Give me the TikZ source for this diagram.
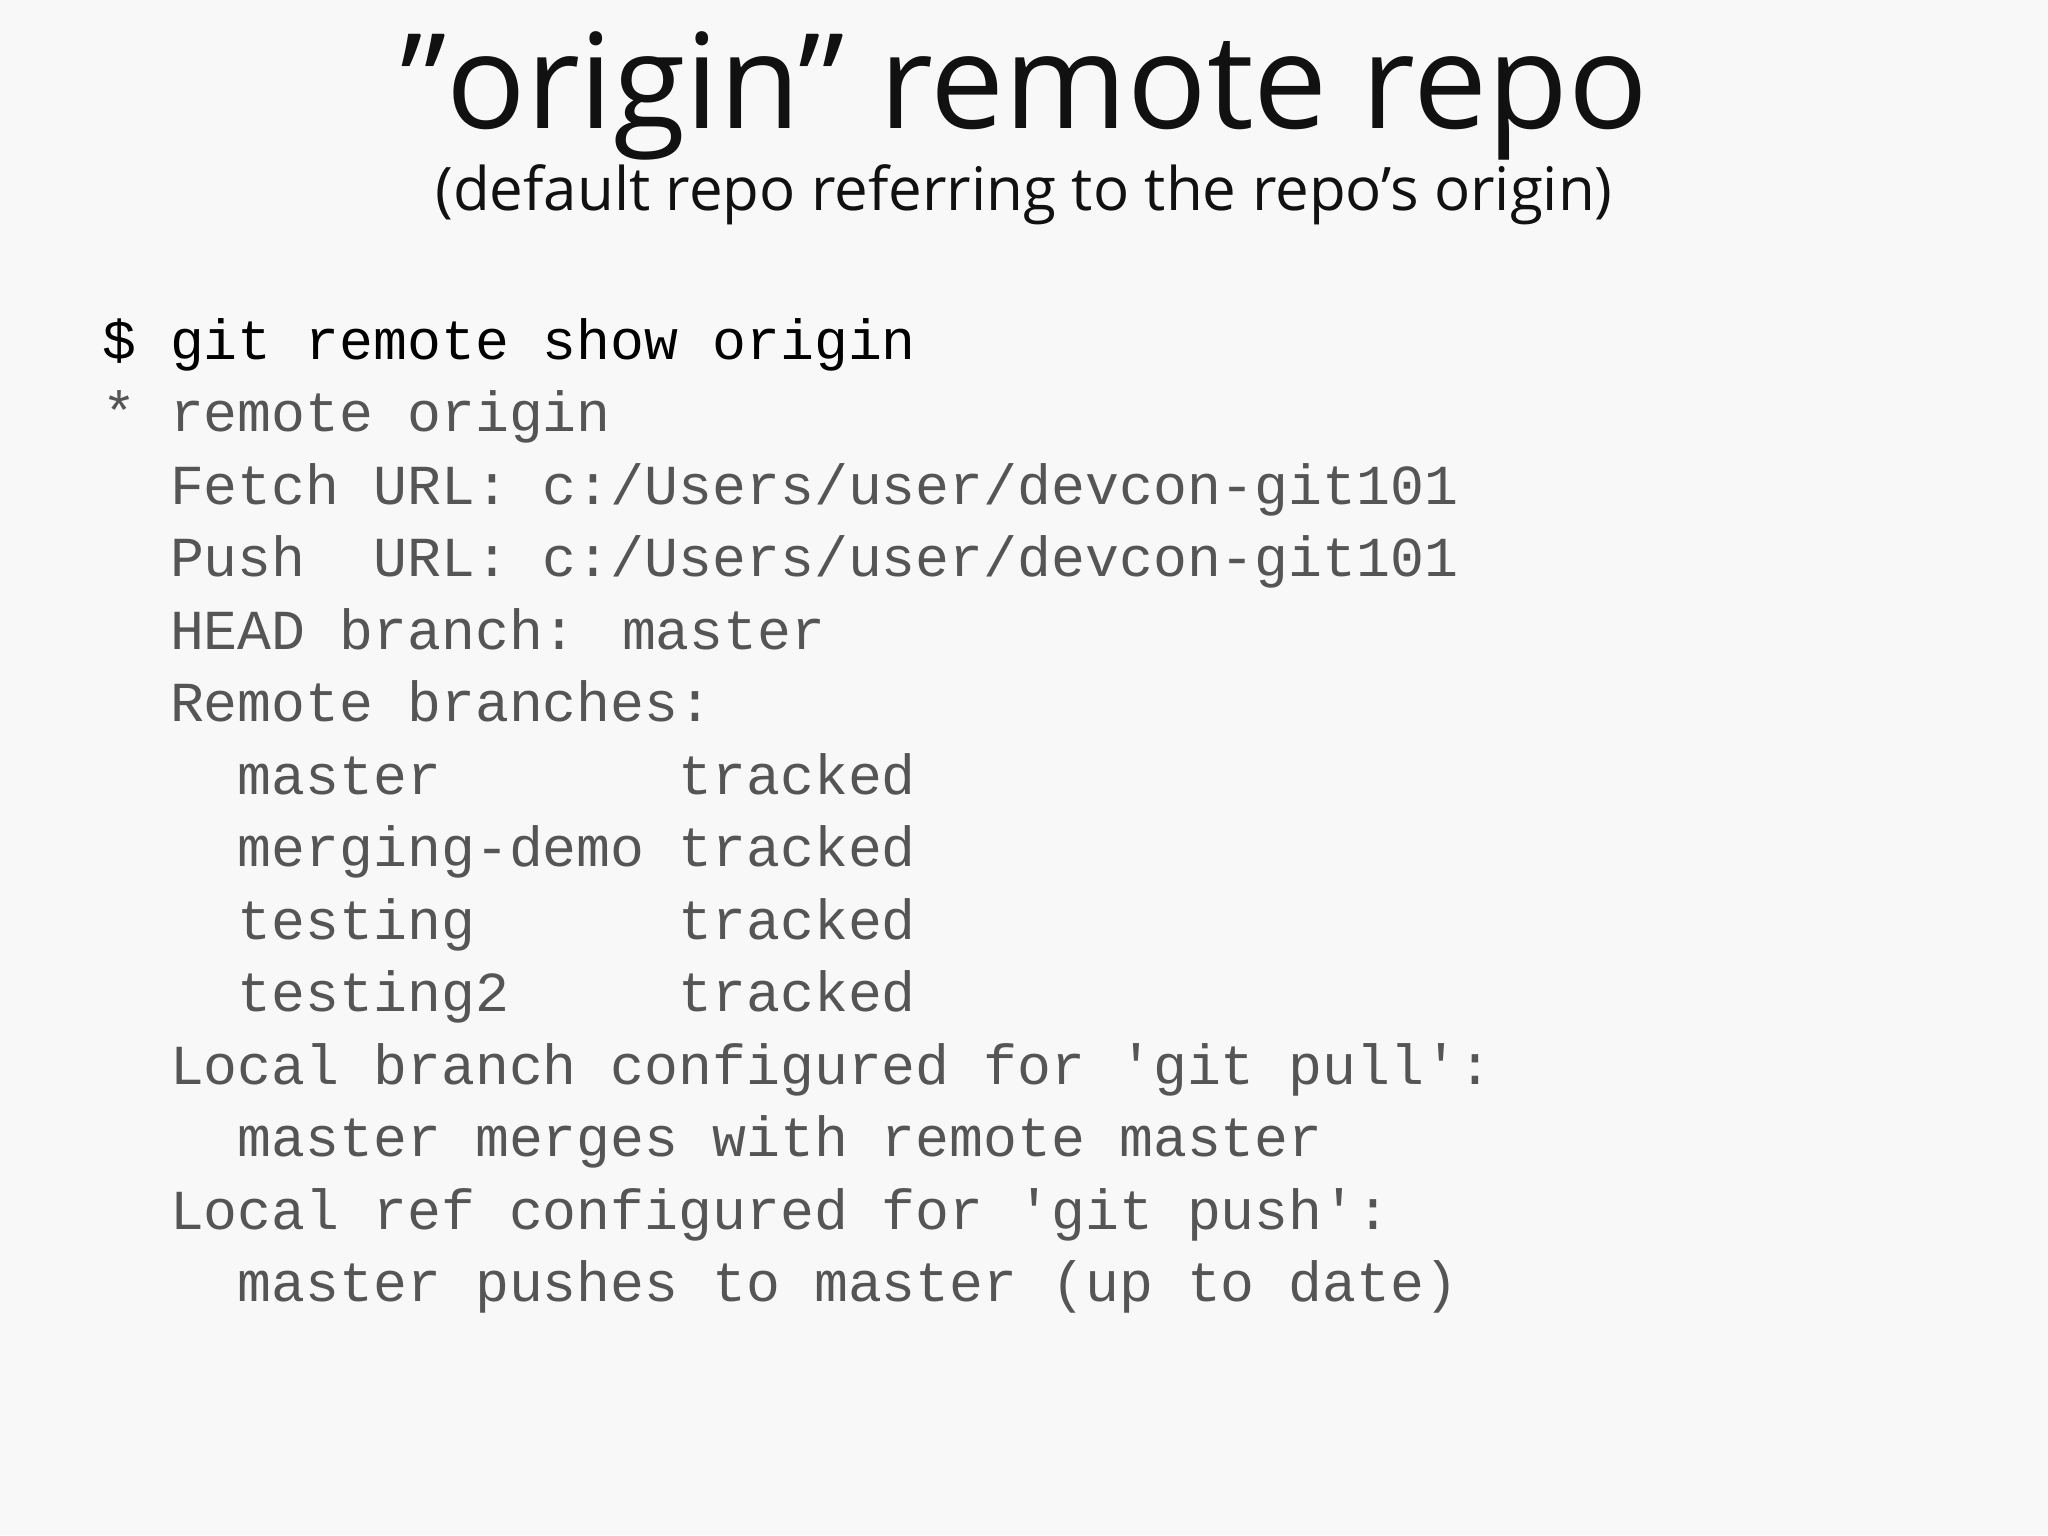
\documentclass[tikz,border=0pt]{standalone}
\usepackage{fontspec}
\setmainfont{Open Sans}
\newfontfamily\codefont{Liberation Mono}
\definecolor{bg}{HTML}{F8F8F8}
\definecolor{codegray}{HTML}{555555}
\definecolor{titleblack}{HTML}{111111}
\begin{document}
\begin{tikzpicture}[x=1pt,y=-1pt,
  code/.style={anchor=base west,inner sep=0pt,font=\codefont\fontsize{56.5}{60}\selectfont,text=codegray},
  cmd/.style={code,text=black}]
\fill[bg] (0,0) rectangle (2048,1535);
\useasboundingbox (0,0) rectangle (2048,1535);
\node[anchor=base,inner sep=0pt,font=\fontsize{132}{140}\selectfont,text=titleblack] (title) at (1024,128) {"origin" remote repo};
\node[anchor=base,inner sep=0pt,font=\fontsize{60}{66}\selectfont,text=titleblack] (sub) at (1024,210) {(default repo referring to the repo's origin)};
\node[cmd] (l0) at (102,359) {\$ git remote show origin};
\node[code] (l1) at (102,431.5) {* remote origin};
\node[code] (l2) at (102,504) {\ \ Fetch URL: c:/Users/user/devcon-git101};
\node[code] (l3) at (102,576.5) {\ \ Push\ \ URL: c:/Users/user/devcon-git101};
\node[code] (l4) at (102,649) {\ \ HEAD branch: master};
\node[code] (l5) at (102,721.5) {\ \ Remote branches:};
\node[code] (l6) at (102,794) {\ \ \ \ master\ \ \ \ \ \ \ tracked};
\node[code] (l7) at (102,866.5) {\ \ \ \ merging-demo tracked};
\node[code] (l8) at (102,939) {\ \ \ \ testing\ \ \ \ \ \ tracked};
\node[code] (l9) at (102,1011.5) {\ \ \ \ testing2\ \ \ \ \ tracked};
\node[code] (l10) at (102,1084) {\ \ Local branch configured for 'git pull':};
\node[code] (l11) at (102,1156.5) {\ \ \ \ master merges with remote master};
\node[code] (l12) at (102,1229) {\ \ Local ref configured for 'git push':};
\node[code] (l13) at (102,1301.5) {\ \ \ \ master pushes to master (up to date)};
\end{tikzpicture}
\end{document}
